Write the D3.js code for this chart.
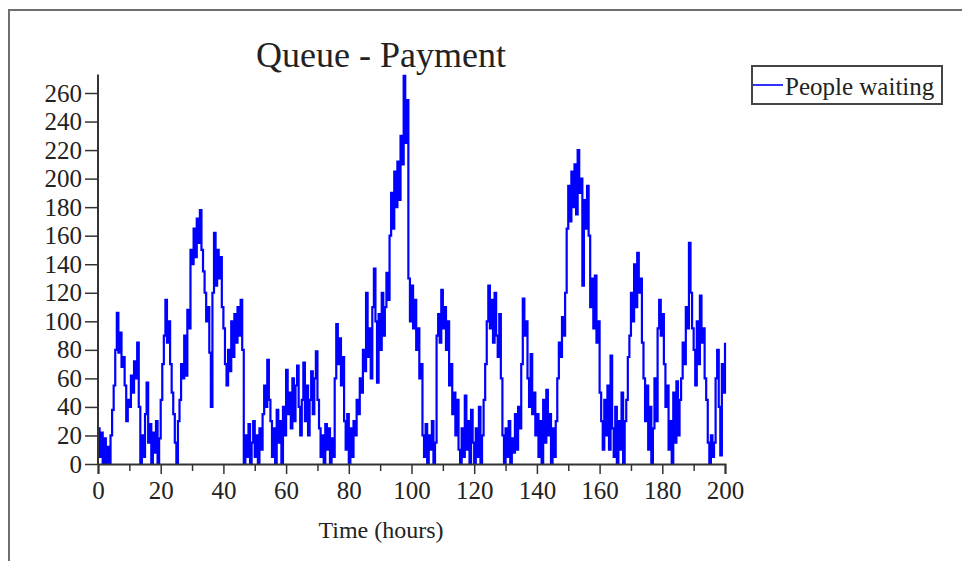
<!DOCTYPE html>
<html>
<head>
<meta charset="utf-8">
<script src="https://cdn.jsdelivr.net/npm/d3@7/dist/d3.min.js"></script>
<style>
  html, body { margin: 0; padding: 0; background: #fff; }
  svg { display: block; }
  text { font-family: "Liberation Serif", "Times New Roman", serif; fill: #222; }
</style>
</head>
<body>
<svg id="chart" width="962" height="561"></svg>
<script>
// Queue length sampled every half hour over 200 hours
const timeStep = 0.5;
const peopleWaiting = [
  // 0 – 9.5 h
  25,5,22,0,18,0,12,0,20,38,55,80,106,78,92,68,75,55,30,45,
  // 10 – 19.5 h
  40,62,50,72,60,85,40,0,20,5,35,57,15,28,0,22,8,30,0,18,
  // 20 – 29.5 h
  45,70,90,115,85,100,70,50,35,15,0,30,45,70,60,90,62,108,95,150,
  // 30 – 39.5 h
  140,165,145,172,155,178,150,135,120,100,110,78,40,120,162,125,150,130,145,110,
  // 40 – 49.5 h
  95,70,55,80,65,100,75,105,85,110,90,115,80,0,20,5,28,0,15,30,
  // 50 – 59.5 h
  5,20,0,25,10,35,55,40,73,45,30,5,25,0,38,15,30,0,40,20,
  // 60 – 69.5 h
  66,35,50,25,60,30,55,69,40,20,45,71,30,55,20,45,65,35,60,79,
  // 70 – 79.5 h
  45,25,5,20,0,28,10,25,0,18,5,60,98,70,88,55,75,30,10,35,
  // 80 – 89.5 h
  0,25,5,30,20,45,35,60,50,80,65,120,75,95,60,110,137,100,57,105,
  // 90 – 99.5 h
  80,120,90,110,134,115,160,190,165,205,180,212,185,230,210,272,225,255,130,100,
  // 100 – 109.5 h
  125,95,115,80,95,60,70,20,5,28,0,20,10,30,0,15,90,105,85,122,
  // 110 – 119.5 h
  95,110,80,100,55,70,35,50,20,45,10,0,25,5,48,10,30,0,38,15,
  // 120 – 129.5 h
  0,25,5,40,0,20,45,70,100,125,95,115,85,120,90,75,105,60,20,0,
  // 130 – 139.5 h
  25,5,30,0,18,8,35,10,40,25,70,116,90,100,60,40,77,35,50,20,
  // 140 – 149.5 h
  35,5,30,0,45,15,52,20,35,0,25,5,30,60,85,75,103,90,120,165,
  // 150 – 159.5 h
  195,170,205,180,210,175,220,190,200,125,185,165,195,160,110,130,95,132,85,100,
  // 160 – 169.5 h
  50,30,10,45,20,55,10,76,25,5,40,0,30,10,50,0,30,45,75,90,
  // 170 – 179.5 h
  120,100,140,110,148,120,130,85,60,30,55,10,40,0,25,60,30,95,115,90,
  // 180 – 189.5 h
  105,70,40,55,10,30,0,50,15,58,20,45,60,85,70,110,95,155,120,95,
  // 190 – 200 h
  80,55,100,70,118,85,95,60,45,15,0,20,5,15,60,80,40,6,70,50,85
];
const xTicks = [0, 20, 40, 60, 80, 100, 120, 140, 160, 180, 200];
const yTicks = [0, 20, 40, 60, 80, 100, 120, 140, 160, 180, 200, 220, 240, 260];
const chartTitle = "Queue - Payment";
const xTitle = "Time (hours)";
const seriesName = "People waiting";

const series = peopleWaiting.map((v, i) => ({ t: i * timeStep, v }));

const svg = d3.select("#chart");

// outer frame (left and top edges)
svg.append("path")
  .attr("d", "M9,561 V10 H962")
  .attr("fill", "none")
  .attr("stroke", "#6e6e6e")
  .attr("stroke-width", 2);

const x = d3.scaleLinear().domain([0, 200]).range([98, 725]);
const y = d3.scaleLinear().domain([0, 260]).range([464, 93]);

// data line
const line = d3.line()
  .x(d => x(d.t))
  .y(d => y(d.v))
  .curve(d3.curveStepAfter);

svg.append("path")
  .datum(series)
  .attr("fill", "none")
  .attr("stroke", "#0000ff")
  .attr("stroke-width", 2.2)
  .attr("stroke-linejoin", "miter")
  .attr("d", line);

const axisColor = "#333";

// y axis
const yAxis = svg.append("g")
  .attr("transform", `translate(${x(0)},0)`)
  .call(d3.axisLeft(y).tickValues(yTicks).tickSize(13).tickPadding(3).tickFormat(d3.format("d")));
yAxis.select(".domain").remove();
yAxis.selectAll(".tick line").attr("stroke", axisColor).attr("stroke-width", 1.5);
yAxis.selectAll(".tick text")
  .attr("font-family", "Liberation Serif, serif")
  .attr("font-size", 25)
  .attr("fill", "#333");
svg.append("line")
  .attr("x1", x(0)).attr("x2", x(0))
  .attr("y1", y(0)).attr("y2", y(273))
  .attr("stroke", axisColor).attr("stroke-width", 2);

// x axis: minor ticks every 10 h, labelled major ticks every 20 h
const xMinor = svg.append("g")
  .attr("transform", `translate(0,${y(0)})`)
  .call(d3.axisBottom(x).tickValues(d3.range(10, 200, 20)).tickSize(7).tickFormat(""));
xMinor.select(".domain").remove();
xMinor.selectAll(".tick line").attr("stroke", axisColor).attr("stroke-width", 1.5);

const xAxis = svg.append("g")
  .attr("transform", `translate(0,${y(0)})`)
  .call(d3.axisBottom(x).tickValues(xTicks).tickSize(10).tickPadding(7).tickFormat(d3.format("d")));
xAxis.select(".domain").attr("stroke", axisColor).attr("stroke-width", 2);
xAxis.selectAll(".tick line").attr("stroke", axisColor).attr("stroke-width", 1.5);
xAxis.selectAll(".tick text")
  .attr("font-family", "Liberation Serif, serif")
  .attr("font-size", 25)
  .attr("fill", "#333");

// titles
svg.append("text")
  .attr("x", 381).attr("y", 67)
  .attr("text-anchor", "middle")
  .attr("font-size", 36)
  .attr("fill", "#111")
  .text(chartTitle);

svg.append("text")
  .attr("x", 381).attr("y", 538)
  .attr("text-anchor", "middle")
  .attr("font-size", 24)
  .text(xTitle);

// legend
const legend = svg.append("g");
legend.append("rect")
  .attr("x", 752).attr("y", 66)
  .attr("width", 190).attr("height", 38)
  .attr("fill", "#fff")
  .attr("stroke", "#444")
  .attr("stroke-width", 2);
legend.append("line")
  .attr("x1", 753).attr("x2", 783)
  .attr("y1", 85).attr("y2", 85)
  .attr("stroke", "#0000ff")
  .attr("stroke-width", 1.6);
legend.append("text")
  .attr("x", 785).attr("y", 95)
  .attr("font-size", 25)
  .text(seriesName);
</script>
</body>
</html>
